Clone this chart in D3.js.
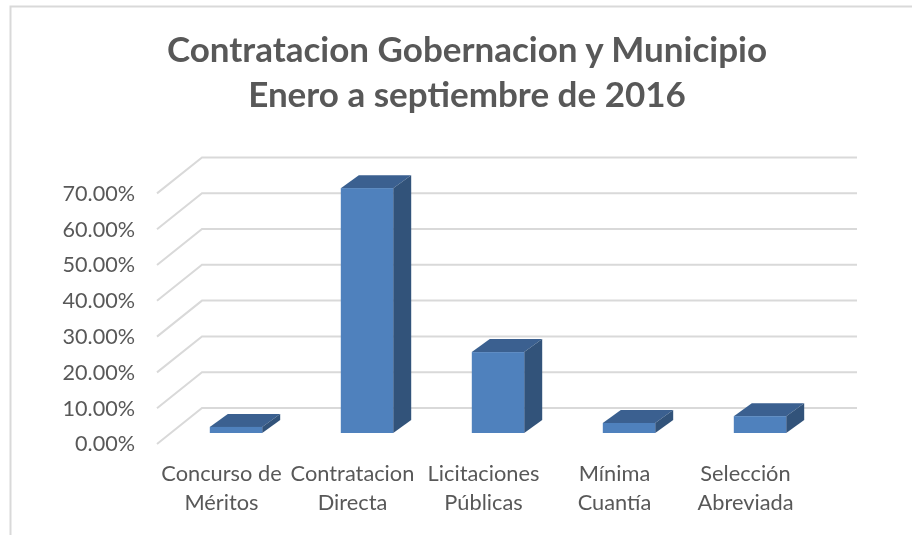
<!DOCTYPE html>
<html>
<head>
<meta charset="utf-8">
<script src="https://cdn.jsdelivr.net/npm/d3@7/dist/d3.min.js"></script>
<style>
html,body{margin:0;padding:0;background:#fff;overflow:hidden}
svg{display:block}
text{font-family:Lato,"Open Sans",sans-serif}
</style>
</head>
<body>
<svg id="chart" width="912" height="535"></svg>
<script>
const categories = [["Concurso de","Méritos"],["Contratacion","Directa"],["Licitaciones","Públicas"],["Mínima","Cuantía"],["Selección","Abreviada"]];
const values = [0.017,0.684,0.226,0.028,0.047];
const tickValues = [0,0.1,0.2,0.3,0.4,0.5,0.6,0.7];
const titleLines = ["Contratacion Gobernacion y Municipio","Enero a septiembre de 2016"];

const svg = d3.select("#chart");
const defs = svg.append("defs");
defs.append("filter").attr("id","soft").attr("x","-5%").attr("y","-5%").attr("width","110%").attr("height","110%")
  .append("feGaussianBlur").attr("stdDeviation",0.45);

const root = svg.append("g").attr("filter","url(#soft)");

// chart frame (only top and left edges are in view)
root.append("path").attr("d","M10.5,535V6.5H912").attr("fill","none").attr("stroke","#d9d9d9").attr("stroke-width",2);

const x = d3.scaleBand().domain(d3.range(categories.length)).range([170.5,825.5]).paddingInner(0.6).paddingOuter(0.3);
const y = d3.scaleLinear().domain([0,0.7]).range([433,182.4]);

// floor offsets of the 3D walls relative to the bar baseline
const frontX=157, backX=202, endX=857, frontDy=11, backDy=-25;
const depthX=18, depthY=-13;

// gridlines
const grid = root.append("g").selectAll("path").data(tickValues).join("path")
  .attr("d",v=>`M${frontX},${y(v)+frontDy}L${backX},${y(v)+backDy}H${endX}`)
  .attr("fill","none").attr("stroke","#d9d9d9").attr("stroke-width",2);

// bars
const bars = root.append("g").selectAll("g").data(values).join("g");
bars.append("path").attr("fill","#3a6190")
  .attr("d",(v,i)=>{const l=x(i),r=l+x.bandwidth(),t=y(v);
    return `M${l},${t}L${l+depthX},${t+depthY}H${r+depthX}L${r},${t}Z`;});
bars.append("path").attr("fill","#31527a")
  .attr("d",(v,i)=>{const r=x(i)+x.bandwidth(),t=y(v),b=y(0);
    return `M${r},${t}L${r+depthX},${t+depthY}V${b+depthY}L${r},${b}Z`;});
bars.append("rect").attr("fill","#4f81bd")
  .attr("x",(v,i)=>x(i)).attr("width",x.bandwidth())
  .attr("y",v=>y(v)).attr("height",v=>y(0)-y(v));

// value axis
const axis = d3.axisLeft(y).tickValues(tickValues).tickFormat(d3.format(".2%")).tickSize(0).tickPadding(0);
const axisG = root.append("g").attr("transform",`translate(135,${frontDy})`).call(axis);
axisG.select(".domain").remove();
axisG.selectAll("text").attr("fill","#595959").style("font-size","21.6px").style("font-family",'Lato,"Open Sans",sans-serif');

// category labels
const cat = root.append("g").selectAll("text").data(categories).join("text")
  .attr("text-anchor","middle").attr("fill","#595959").style("font-size","21.8px");
cat.each(function(lines,i){
  const t=d3.select(this);
  const cx=x(i)+x.bandwidth()/2-14.5;
  lines.forEach((s,k)=>t.append("tspan").attr("x",cx).attr("y",481+k*29).text(s));
});

// title
root.append("g").selectAll("text").data(titleLines).join("text")
  .attr("x",467).attr("y",(d,i)=>62+i*45).attr("text-anchor","middle")
  .attr("fill","#595959").style("font-size","35px").style("font-weight",700).text(d=>d);
</script>
</body>
</html>
